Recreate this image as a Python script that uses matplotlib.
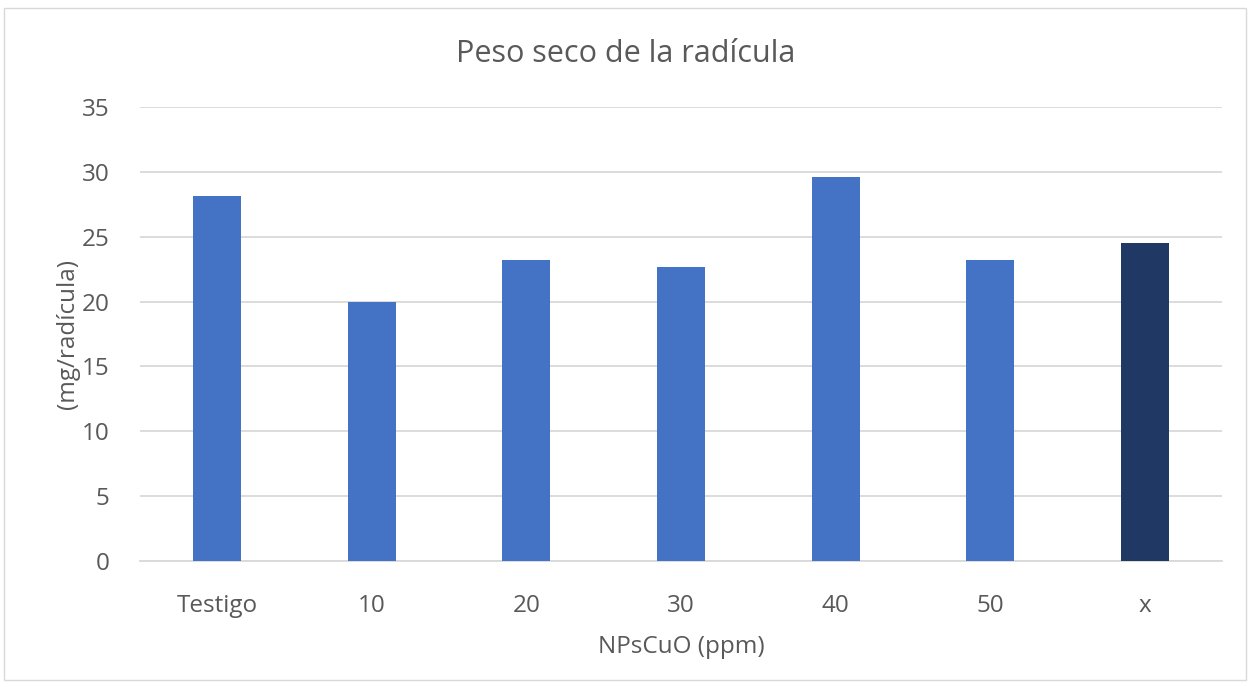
import numpy as np
import matplotlib.pyplot as plt
from matplotlib.patches import Rectangle

categorias = ["Testigo", "10", "20", "30", "40", "50", "x"]
valores = [28.1, 20.0, 23.2, 22.7, 29.6, 23.2, 24.5]
colores = ["#4472C4"] * 6 + ["#203864"]
yticks = [0, 5, 10, 15, 20, 25, 30, 35]

texto = "#595959"
plt.rcParams['font.family'] = ['Open Sans', 'DejaVu Sans']

fig = plt.figure(figsize=(12.51, 6.87), dpi=100)
ax = fig.add_axes([0.1119, 0.1834, 0.8649, 0.6609])

x = np.arange(len(categorias))
ax.bar(x, valores, 0.31, color=colores, zorder=3)

ax.set_xlim(-0.5, len(categorias) - 0.5)
ax.set_ylim(0, 35)
ax.set_yticks(yticks)
ax.set_xticks(x, categorias)
ax.grid(axis='y', color="#D9D9D9", linewidth=1.3, zorder=0)
for s in ['top', 'right', 'left']:
    ax.spines[s].set_visible(False)
ax.spines['bottom'].set_color("#D9D9D9")
ax.spines['bottom'].set_linewidth(1.3)
ax.tick_params(length=0, labelsize=17.5, colors=texto)
ax.tick_params(axis='x', pad=24)
ax.tick_params(axis='y', pad=22)

ax.set_xlabel("NPsCuO (ppm)", fontsize=17.5, color=texto, labelpad=12)
ax.set_ylabel("(mg/radícula)", fontsize=17.5, color=texto, labelpad=1)
fig.text(0.5, 0.922, "Peso seco de la radícula", ha='center', va='center',
         fontsize=22, color=texto)

fig.patches.append(Rectangle((0.003, 0.01), 0.993, 0.978, transform=fig.transFigure,
                             fill=False, edgecolor="#D9D9D9", linewidth=1))

plt.savefig('out.png', dpi=100)
